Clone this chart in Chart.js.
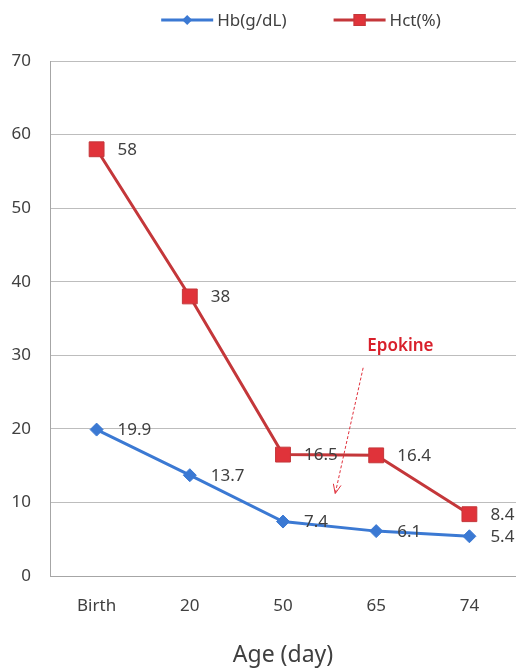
<!DOCTYPE html>
<html>
<head>
<meta charset="utf-8">
<script src="https://cdn.jsdelivr.net/npm/chart.js@4/dist/chart.umd.min.js"></script>
<style>
  html, body { margin: 0; padding: 0; background: #ffffff; }
  #wrap { width: 516px; height: 671px; position: relative; }
  canvas { display: block; }
</style>
</head>
<body>
<div id="wrap"><canvas id="c" width="516" height="671"></canvas></div>
<script>
// Age points (x categories)
const ages = ['Birth', '20', '50', '65', '74'];
// Haemoglobin, g/dL
const hbValues = [19.9, 13.7, 7.4, 6.1, 5.4];
// Haematocrit, %
const hctValues = [58, 38, 16.5, 16.4, 8.4];
// Y axis ticks
const yTicks = [0, 10, 20, 30, 40, 50, 60, 70];

const FONT = '"Noto Sans", "Open Sans", sans-serif';
const TEXT = '#404040';
const HB_LINE = '#3b79d3';
const HCT_LINE = '#c4373a';
const HCT_FILL = '#e0333a';

// Legend row: a short line with the series marker, then the series name
const lineLegend = {
  id: 'lineLegend',
  afterDraw(chart) {
    const ctx = chart.ctx;
    const sets = chart.data.datasets;
    const swW = 52, gapText = 4, gapItem = 47, cy = 20;
    ctx.save();
    ctx.font = '17px ' + FONT;
    const widths = sets.map(ds => ctx.measureText(ds.label).width);
    let total = 0;
    widths.forEach((w, i) => { total += swW + gapText + w + (i ? gapItem : 0); });
    let x = 301 - total / 2;
    sets.forEach((ds, i) => {
      ctx.strokeStyle = ds.borderColor;
      ctx.lineWidth = 3;
      ctx.beginPath(); ctx.moveTo(x, cy); ctx.lineTo(x + swW, cy); ctx.stroke();
      const mx = x + swW / 2;
      ctx.fillStyle = ds.pointBackgroundColor;
      if (ds.pointStyle === 'rectRot') {
        ctx.beginPath();
        ctx.moveTo(mx, cy - 5); ctx.lineTo(mx + 5, cy); ctx.lineTo(mx, cy + 5); ctx.lineTo(mx - 5, cy);
        ctx.closePath(); ctx.fill();
      } else {
        ctx.fillRect(mx - 6, cy - 6, 12, 12);
        ctx.strokeStyle = ds.pointBorderColor; ctx.lineWidth = 1;
        ctx.strokeRect(mx - 5.5, cy - 5.5, 11, 11);
      }
      ctx.fillStyle = TEXT;
      ctx.textAlign = 'left';
      ctx.textBaseline = 'middle';
      ctx.fillText(ds.label, x + swW + gapText, cy + 1);
      x += swW + gapText + widths[i] + gapItem;
    });
    ctx.restore();
  }
};

// Value labels to the right of every point
const valueLabels = {
  id: 'valueLabels',
  afterDatasetsDraw(chart) {
    const ctx = chart.ctx;
    ctx.save();
    ctx.font = '17px ' + FONT;
    ctx.fillStyle = TEXT;
    ctx.textAlign = 'left';
    ctx.textBaseline = 'middle';
    chart.data.datasets.forEach((ds, di) => {
      chart.getDatasetMeta(di).data.forEach((pt, i) => {
        ctx.fillText(String(ds.data[i]), pt.x + 21, pt.y + 1);
      });
    });
    ctx.restore();
  }
};

// "Epokine" note with a dashed arrow pointing down between day 50 and 65
const epokineNote = {
  id: 'epokineNote',
  afterDatasetsDraw(chart) {
    const x = chart.scales.x, y = chart.scales.y, ctx = chart.ctx;
    const tx = x.getPixelForValue(3.26), ty = y.getPixelForValue(31.3);
    const x0 = x.getPixelForValue(2.86), y0 = y.getPixelForValue(28.3);
    const x1 = x.getPixelForValue(2.56), y1 = y.getPixelForValue(11.2);
    ctx.save();
    ctx.font = '600 17px ' + FONT;
    ctx.fillStyle = '#d8202b';
    ctx.textAlign = 'center';
    ctx.textBaseline = 'middle';
    ctx.fillText('Epokine', tx, ty);
    ctx.strokeStyle = '#e0303c';
    ctx.lineWidth = 1;
    ctx.setLineDash([3, 2]);
    ctx.beginPath(); ctx.moveTo(x0, y0); ctx.lineTo(x1, y1); ctx.stroke();
    ctx.setLineDash([]);
    const a = Math.atan2(y1 - y0, x1 - x0), L = 10;
    ctx.beginPath();
    ctx.moveTo(x1 - L * Math.cos(a - 0.4), y1 - L * Math.sin(a - 0.4));
    ctx.lineTo(x1, y1);
    ctx.lineTo(x1 - L * Math.cos(a + 0.4), y1 - L * Math.sin(a + 0.4));
    ctx.stroke();
    ctx.restore();
  }
};

new Chart(document.getElementById('c'), {
  type: 'line',
  data: {
    labels: ages,
    datasets: [
      {
        label: 'Hb(g/dL)',
        data: hbValues,
        borderColor: HB_LINE,
        backgroundColor: HB_LINE,
        borderWidth: 3,
        pointStyle: 'rectRot',
        pointRadius: 6.5,
        pointBorderWidth: 1,
        pointBackgroundColor: HB_LINE,
        pointBorderColor: HB_LINE,
        tension: 0
      },
      {
        label: 'Hct(%)',
        data: hctValues,
        borderColor: HCT_LINE,
        backgroundColor: HCT_FILL,
        borderWidth: 3,
        pointStyle: 'rect',
        pointRadius: 10.5,
        pointBorderWidth: 1,
        pointBackgroundColor: HCT_FILL,
        pointBorderColor: HCT_LINE,
        tension: 0
      }
    ]
  },
  options: {
    responsive: false,
    animation: false,
    events: [],
    layout: { autoPadding: false, padding: { top: 61, right: 0, bottom: 0, left: 0 } },
    plugins: {
      tooltip: { enabled: false },
      legend: { display: false }
    },
    scales: {
      x: {
        offset: true,
        afterFit(scale) { scale.height = 95; scale.paddingLeft = 0; scale.paddingRight = 0; },
        grid: { display: false, drawTicks: false },
        border: { display: true, color: '#a6a6a6', width: 1 },
        ticks: { color: TEXT, font: { family: FONT, size: 17 }, padding: 20, maxRotation: 0 },
        title: {
          display: true,
          text: 'Age (day)',
          color: TEXT,
          font: { family: FONT, size: 23 },
          padding: { top: 0, bottom: 2 }
        }
      },
      y: {
        min: 0,
        max: 70,
        afterBuildTicks(scale) { scale.ticks = yTicks.map(v => ({ value: v })); },
        afterFit(scale) { scale.width = 50; scale.paddingTop = 0; scale.paddingBottom = 0; },
        grid: { color: '#bdbdbd', lineWidth: 1, drawTicks: false },
        border: { display: true, color: '#a6a6a6', width: 1 },
        ticks: { color: TEXT, font: { family: FONT, size: 17 }, padding: 19 }
      }
    }
  },
  plugins: [valueLabels, epokineNote, lineLegend]
});
</script>
</body>
</html>
